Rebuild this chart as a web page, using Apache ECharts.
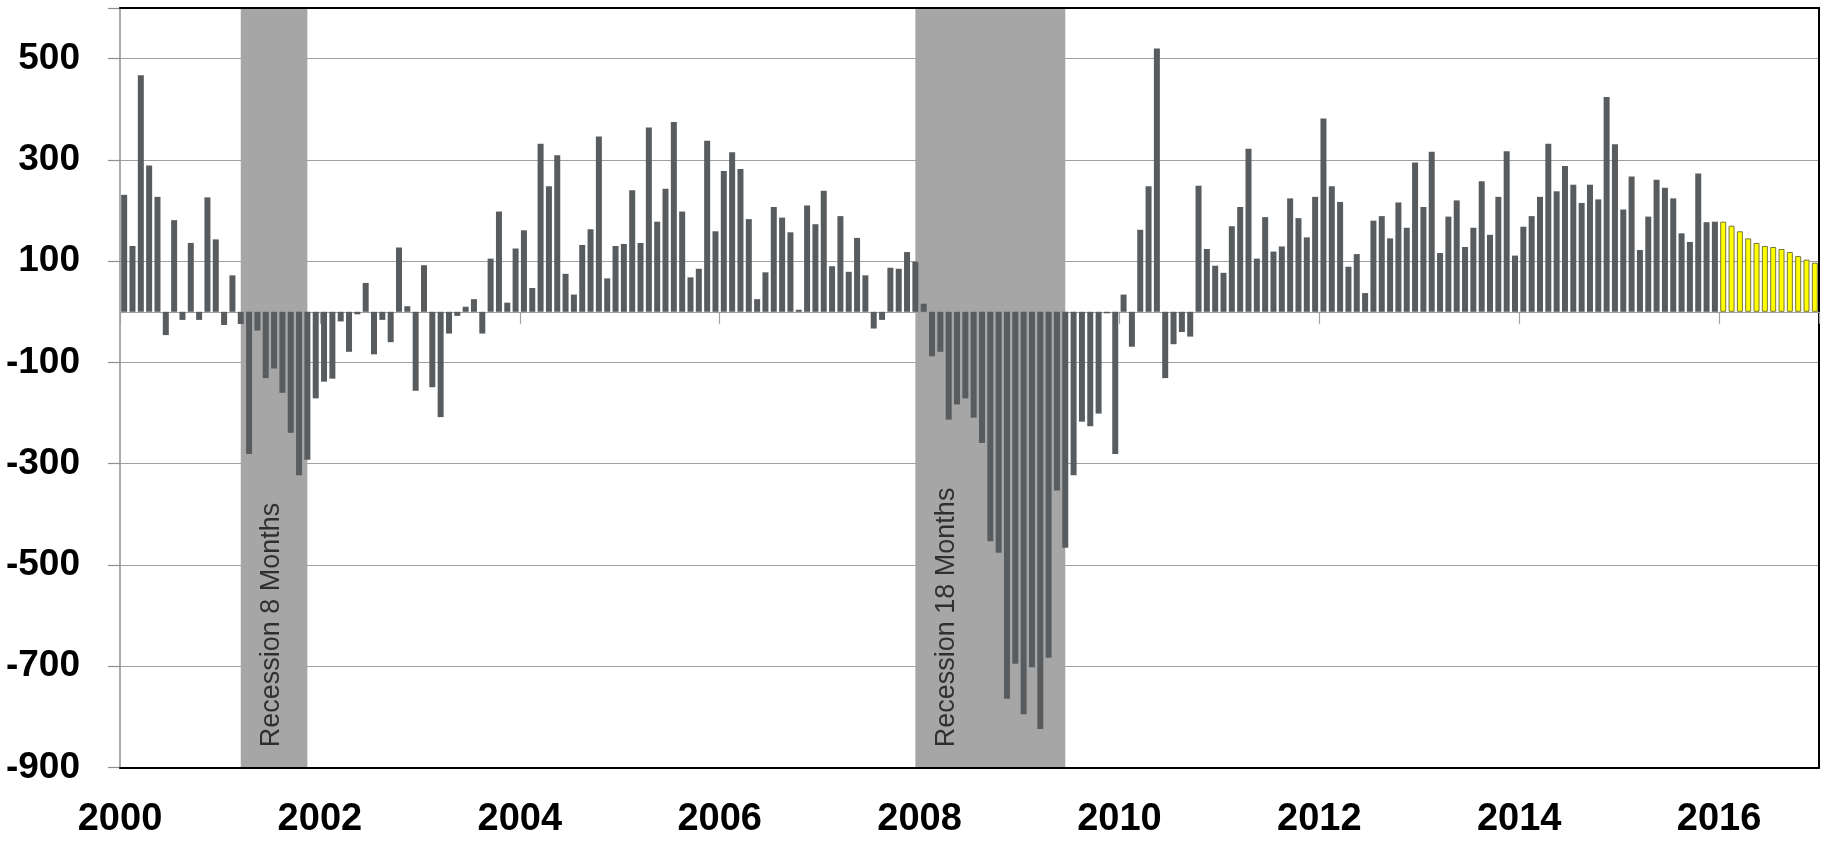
<!DOCTYPE html>
<html>
<head>
<meta charset="utf-8">
<script src="https://cdn.jsdelivr.net/npm/echarts@6/dist/echarts.min.js"></script>
<style>
  html, body { margin: 0; padding: 0; background: #fff; }
  #chart { width: 1826px; height: 841px; }
</style>
</head>
<body>
<div id="chart"></div>
<script>
// Monthly payroll change (thousands), Jan 2000 - Dec 2015
const actual2000 = [231, 130, 467, 289, 227, -46, 181, -16, 136, -16, 226, 143];
const actual2001 = [-26, 72, -24, -281, -37, -131, -112, -160, -239, -323, -292, -171];
const actual2002 = [-138, -132, -19, -79, -5, 57, -84, -16, -60, 127, 11, -156];
const actual2003 = [92, -149, -208, -43, -8, 10, 25, -43, 105, 198, 18, 125];
const actual2004 = [161, 47, 332, 248, 309, 75, 34, 132, 163, 346, 66, 130];
const actual2005 = [134, 240, 136, 364, 178, 243, 375, 198, 68, 85, 338, 159];
const actual2006 = [278, 315, 282, 183, 25, 78, 207, 186, 157, 4, 210, 173];
const actual2007 = [239, 90, 189, 79, 146, 72, -33, -16, 87, 85, 118, 99];
const actual2008 = [16, -88, -79, -213, -183, -171, -209, -259, -453, -476, -764, -695];
const actual2009 = [-795, -702, -824, -683, -353, -466, -323, -217, -226, -201, -3, -281];
const actual2010 = [34, -69, 162, 248, 520, -131, -64, -40, -49, 249, 124, 91];
const actual2011 = [77, 169, 207, 322, 105, 187, 119, 129, 224, 185, 147, 227];
const actual2012 = [382, 248, 217, 89, 114, 37, 180, 189, 145, 216, 166, 295];
const actual2013 = [207, 316, 116, 188, 220, 128, 166, 258, 152, 227, 317, 111];
const actual2014 = [168, 189, 227, 332, 238, 288, 251, 215, 251, 222, 424, 331];
const actual2015 = [202, 267, 122, 188, 261, 245, 224, 155, 138, 273, 177, 178];
// Forecast 2016 (yellow)
const forecast2016 = [178, 170, 159, 145, 136, 130, 128, 124, 118, 110, 103, 97];

const yearLabels = ['2000', '2002', '2004', '2006', '2008', '2010', '2012', '2014', '2016'];
const yTickLabels = ['-900', '-700', '-500', '-300', '-100', '100', '300', '500'];

const recessionStarts = ['2001-03', '2007-12'];
const recessionEnds = ['2001-11', '2009-06'];
const recessionLabels = ['Recession 8 Months', 'Recession 18 Months'];

const Y_MIN = -900, Y_MAX = 600;
const START_YEAR = 2000, TOTAL_MONTHS = 204;

const actual = [].concat(actual2000, actual2001, actual2002, actual2003, actual2004,
  actual2005, actual2006, actual2007, actual2008, actual2009, actual2010, actual2011,
  actual2012, actual2013, actual2014, actual2015);

function monthIndex(s) {
  const [y, m] = s.split('-').map(Number);
  return (y - START_YEAR) * 12 + (m - 1);
}

const actualData = actual.map((v, i) => [i + 0.5, v]);
const forecastData = forecast2016.map((v, i) => [actual.length + i + 0.5, v]);

const recessionAreas = recessionStarts.map((s, k) => [
  { xAxis: monthIndex(s) + 0.5 },
  { xAxis: monthIndex(recessionEnds[k]) + 0.5 }
]);
const recessionLabelData = recessionStarts.map((s, k) => ({
  name: recessionLabels[k],
  value: [monthIndex(s) + 0.5, -860]
}));

const chart = echarts.init(document.getElementById('chart'), null, { renderer: 'canvas' });

const option = {
  animation: false,
  backgroundColor: '#ffffff',
  grid: { left: 120, right: 7, top: 8, bottom: 73.5, show: false },
  xAxis: [
    { // bottom labels + black bottom border
      type: 'value', min: 0, max: TOTAL_MONTHS, interval: 24, position: 'bottom', z: 1.5,
      axisLine: { show: true, onZero: false, lineStyle: { color: '#000', width: 2 } },
      axisTick: { show: false },
      splitLine: { show: false },
      axisLabel: {
        show: true, margin: 33, color: '#000', fontSize: 38, fontWeight: 'bold',
        fontFamily: "'Liberation Sans', Arial, sans-serif",
        showMaxLabel: false,
        formatter: v => { const k = v / 24; return Number.isInteger(k) && yearLabels[k] ? yearLabels[k] : ''; }
      }
    },
    { // axis on zero with ticks
      type: 'value', min: 0, max: TOTAL_MONTHS, interval: 24, position: 'bottom', z: 1.5,
      axisLine: { show: true, onZero: true, onZeroAxisIndex: 0, lineStyle: { color: '#a0a0a0', width: 1.2 } },
      axisTick: { show: true, length: 12, lineStyle: { color: '#a0a0a0', width: 1.2 } },
      axisLabel: { show: false },
      splitLine: { show: false }
    },
    { // top border
      type: 'value', min: 0, max: TOTAL_MONTHS, position: 'top', z: 1.5,
      axisLine: { show: true, onZero: false, lineStyle: { color: '#000', width: 2 } },
      axisTick: { show: false }, axisLabel: { show: false }, splitLine: { show: false }
    }
  ],
  yAxis: [
    { // data axis (right border)
      type: 'value', min: Y_MIN, max: Y_MAX, position: 'right', z: 1.5,
      axisLine: { show: true, onZero: false, lineStyle: { color: '#000', width: 2 } },
      axisTick: { show: false }, axisLabel: { show: false }, splitLine: { show: false }
    },
    { // visible tick labels & gridlines, counted from -900
      type: 'value', min: 0, max: Y_MAX - Y_MIN, interval: 200, position: 'left',
      axisLine: { show: true, onZero: false, lineStyle: { color: '#909090', width: 1.5 } },
      axisTick: { show: true, length: 12, lineStyle: { color: '#909090', width: 1.2 } },
      splitLine: { show: true, lineStyle: { color: '#a0a0a0', width: 1.2 } },
      axisLabel: {
        margin: 40, color: '#000', fontSize: 37, fontWeight: 'bold',
        fontFamily: "'Liberation Sans', Arial, sans-serif",
        formatter: v => { const k = v / 200; return Number.isInteger(k) && yTickLabels[k] ? yTickLabels[k] : ''; }
      }
    }
  ],
  series: [
    {
      name: 'Recessions', type: 'scatter', xAxisIndex: 0, yAxisIndex: 0, z: 1,
      symbolSize: 0, data: recessionLabelData, silent: true,
      label: {
        show: true, formatter: p => p.name, position: [31, 0], rotate: 90,
        align: 'left', verticalAlign: 'middle', color: '#111', fontSize: 27,
        fontFamily: "'Liberation Sans', Arial, sans-serif"
      },
      markArea: {
        silent: true, z: 1,
        itemStyle: { color: '#a6a6a6', opacity: 1 },
        label: { show: false },
        data: recessionAreas
      }
    },
    {
      name: 'Actual', type: 'bar', xAxisIndex: 0, yAxisIndex: 0, z: 2,
      barWidth: 6, barGap: '-100%',
      itemStyle: { color: '#595c5f' },
      data: actualData
    },
    {
      name: 'Forecast', type: 'bar', xAxisIndex: 0, yAxisIndex: 0, z: 2,
      barWidth: 6, barGap: '-100%',
      itemStyle: { color: '#ffff00', borderColor: '#77773a', borderWidth: 1 },
      data: forecastData
    }
  ]
};
chart.setOption(option);
</script>
</body>
</html>
